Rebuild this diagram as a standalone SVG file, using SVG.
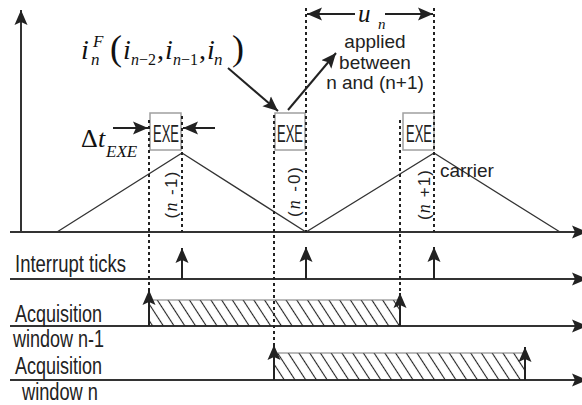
<svg xmlns="http://www.w3.org/2000/svg" width="582" height="405" viewBox="0 0 582 405">
<style>
.ax{stroke:#333;stroke-width:2;fill:none}
.car{stroke:#333;stroke-width:1.3;fill:none}
.dot{stroke:#222;stroke-width:2;stroke-dasharray:3 3;fill:none}
.box{fill:#fff;stroke:#a0a0a0;stroke-width:1.5}
.exe{font-family:"Liberation Sans",Arial,sans-serif;font-size:23px;fill:#222}
.lab{font-family:"Liberation Sans",Arial,sans-serif;font-size:23.5px;fill:#222}
.sm{font-family:"Liberation Sans",Arial,sans-serif;font-size:19px;fill:#222}
.rot{font-family:"Liberation Sans",Arial,sans-serif;font-size:17px;fill:#222}
.m{font-family:"Liberation Serif","Times New Roman",serif;font-style:italic;fill:#111}
.r{font-style:normal}
.arr{stroke:#222;stroke-width:2;fill:none;marker-end:url(#ah)}
.top{stroke:#777;stroke-width:1}
</style>
<defs>
<marker id="ah" markerUnits="userSpaceOnUse" markerWidth="16" markerHeight="14" refX="15" refY="7" orient="auto" viewBox="0 0 16 14">
<path d="M0,0.5 L15,7 L0,13.5 L3,7 z" fill="#222"/>
</marker>
<pattern id="hatch" width="9" height="10" patternUnits="userSpaceOnUse" patternTransform="rotate(-33)">
<line x1="4.5" y1="-1" x2="4.5" y2="11" stroke="#222" stroke-width="1.1"/>
</pattern>
</defs>

<g id="axes">
<line class="ax" x1="21" y1="232" x2="21" y2="10" style="marker-end:url(#ah)"/>
<line class="ax" x1="10" y1="232" x2="587" y2="232" style="marker-end:url(#ah)"/>
<line class="ax" x1="10" y1="279" x2="587" y2="279" style="marker-end:url(#ah)"/>
<line class="ax" x1="10" y1="326" x2="587" y2="326" style="marker-end:url(#ah)"/>
<line class="ax" x1="10" y1="380" x2="587" y2="380" style="marker-end:url(#ah)"/>
</g>

<g id="carrier">
<polyline class="car" points="57,232 182,153 306,232 434,153 560,232"/>
<text class="sm" x="440" y="177" font-size="18">carrier</text>
</g>

<g id="acq-windows">
<rect x="149" y="300" width="251" height="26" fill="url(#hatch)"/>
<line class="top" x1="149" y1="300" x2="400" y2="300"/>
<rect x="274" y="353" width="251" height="27" fill="url(#hatch)"/>
<line class="top" x1="274" y1="353" x2="525" y2="353"/>
</g>

<g id="exe1">
<rect class="box" x="150" y="113" width="31" height="37"/>
<text class="exe" x="166" y="142" text-anchor="middle" textLength="26" lengthAdjust="spacingAndGlyphs">EXE</text>
</g>
<g id="exe2">
<rect class="box" x="275" y="113" width="30" height="37"/>
<text class="exe" x="290" y="142" text-anchor="middle" textLength="26" lengthAdjust="spacingAndGlyphs">EXE</text>
</g>
<g id="exe3">
<rect class="box" x="403" y="113" width="31" height="37"/>
<text class="exe" x="419" y="142" text-anchor="middle" textLength="26" lengthAdjust="spacingAndGlyphs">EXE</text>
</g>

<g id="connectors">
<line class="dot" x1="149" y1="120" x2="149" y2="292"/>
<line class="dot" x1="182" y1="116" x2="182" y2="232"/>
<line class="dot" x1="274" y1="115" x2="274" y2="347"/>
<line class="dot" x1="306" y1="8" x2="306" y2="232"/>
<line class="dot" x1="400" y1="120" x2="400" y2="294"/>
<line class="dot" x1="434" y1="8" x2="434" y2="232"/>

<line class="arr" x1="182" y1="279" x2="182" y2="248"/>
<line class="arr" x1="306" y1="279" x2="306" y2="247"/>
<line class="arr" x1="434" y1="279" x2="434" y2="247"/>

<line class="arr" x1="149" y1="326" x2="149" y2="290"/>
<line class="arr" x1="400" y1="326" x2="400" y2="293"/>
<line class="arr" x1="274" y1="380" x2="274" y2="345"/>
<line class="arr" x1="525" y1="380" x2="525" y2="347"/>

<line class="arr" x1="228" y1="68" x2="278" y2="111"/>
<line class="arr" x1="288" y1="110" x2="336" y2="53"/>

<line class="arr" x1="113" y1="128" x2="148" y2="128"/>
<line class="arr" x1="215" y1="128" x2="183" y2="128"/>

<line class="arr" x1="355" y1="14" x2="307" y2="14"/>
<line class="arr" x1="385" y1="14" x2="433" y2="14"/>
</g>

<g id="rot-labels">
<text class="rot" transform="translate(177,195) rotate(-90)" text-anchor="middle" textLength="47">(<tspan class="m" font-size="18">n</tspan> -1)</text>
<text class="rot" transform="translate(300,192) rotate(-90)" text-anchor="middle" textLength="50">(<tspan class="m" font-size="18">n</tspan> -0)</text>
<text class="rot" transform="translate(430,195) rotate(-90)" text-anchor="middle" textLength="50">(<tspan class="m" font-size="18">n</tspan> +1)</text>
</g>

<g id="formula">
<text class="m" font-size="28" y="59"><tspan x="81">i</tspan><tspan x="93" y="47" font-size="17">F</tspan><tspan x="91" y="65" font-size="17">n</tspan><tspan x="110" y="60" font-size="36" class="r">(</tspan><tspan x="123" y="59">i</tspan><tspan x="131" y="65" font-size="16">n<tspan class="r">−2</tspan></tspan><tspan x="157" y="59" class="r">,</tspan><tspan x="165" y="59">i</tspan><tspan x="173" y="65" font-size="16">n<tspan class="r">−1</tspan></tspan><tspan x="199" y="59" class="r">,</tspan><tspan x="207" y="59">i</tspan><tspan x="214" y="65" font-size="17">n</tspan><tspan x="232" y="60" font-size="36" class="r">)</tspan></text>
</g>

<g id="dt-label">
<text class="m" font-size="26" y="147"><tspan x="81" class="r">Δ</tspan><tspan x="98">t</tspan><tspan x="106" y="157" font-size="17">EXE</tspan></text>
</g>

<g id="un-label">
<text class="m" font-size="25" y="22"><tspan x="358">u</tspan><tspan x="378" y="29" font-size="15">n</tspan></text>
<text class="sm" text-anchor="middle"><tspan x="375" y="48">applied</tspan><tspan x="375" y="69">between</tspan><tspan x="375" y="89">n and (n+1)</tspan></text>
</g>

<g id="row-labels">
<text class="lab" x="15" y="272" textLength="111" lengthAdjust="spacingAndGlyphs">Interrupt ticks</text>
<text class="lab" x="15" y="321.5" textLength="87" lengthAdjust="spacingAndGlyphs">Acquisition</text>
<text class="lab" x="13" y="347" textLength="91" lengthAdjust="spacingAndGlyphs">window n-1</text>
<text class="lab" x="15" y="374" textLength="87" lengthAdjust="spacingAndGlyphs">Acquisition</text>
<text class="lab" x="22" y="400" textLength="76" lengthAdjust="spacingAndGlyphs">window n</text>
</g>
</svg>
